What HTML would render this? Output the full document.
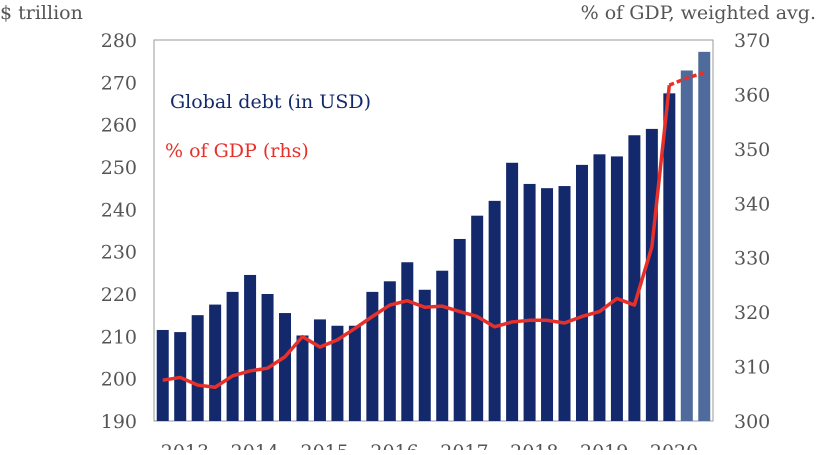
<!DOCTYPE html>
<html><head><meta charset="utf-8"><style>
body{margin:0;background:#fff;width:823px;height:450px;overflow:hidden}
text{font-family:"DejaVu Serif","Liberation Serif",serif}
</style></head><body>
<svg id="chart" width="823" height="450" xmlns="http://www.w3.org/2000/svg"></svg>
<script>
const yearLabels=["2013","2014","2015","2016","2017","2018","2019","2020"];
const debtValues=[211.5,211,215,217.5,220.5,224.5,220,215.5,210.2,214,212.5,212.5,220.5,223,227.5,221,225.5,233,238.5,242,251,246,245,245.5,250.5,253,252.5,257.5,259,267.4,272.8,277.2];
const gdpValues=[307.5,308,306.6,306.2,308.3,309.2,309.7,311.8,315.5,313.6,314.9,317,319.2,321.3,322.1,320.9,321.1,320.1,319.2,317.3,318.2,318.5,318.5,318,319.2,320.1,322.5,321.3,332,361.7,363,364];
const leftTicks=[190,200,210,220,230,240,250,260,270,280];
const rightTicks=[300,310,320,330,340,350,360,370];
const projectedFrom=30;
const NS="http://www.w3.org/2000/svg";
const svg=document.getElementById('chart');
const X0=154,X1=713,Y0=40,Y1=421;
const step=(X1-X0)/debtValues.length;
const xc=i=>X0+step*(i+0.5);
const yL=v=>Y1-(v-190)/(280-190)*(Y1-Y0);
const yR=v=>Y1-(v-300)/(370-300)*(Y1-Y0);
function mk(tag,attrs,txt){const e=document.createElementNS(NS,tag);for(const k in attrs)e.setAttribute(k,attrs[k]);if(txt!==undefined)e.textContent=txt;svg.appendChild(e);return e;}
let e;
e=mk('rect',{x:X0,y:Y0,width:X1-X0,height:Y1-Y0,fill:'none',stroke:'#999','stroke-width':1});


debtValues.forEach((v,i)=>{
  const b=mk('rect',{x:xc(i)-6,y:yL(v),width:12,height:Y1-yL(v),fill:i>=projectedFrom?'#4e6b9b':'#14296b'});
  
  
});
let d='';
gdpValues.forEach((v,i)=>{if(i<=projectedFrom-1)d+=(i?'L':'M')+xc(i)+','+yR(v);});
e=mk('path',{d:d,fill:'none',stroke:'#e8302a','stroke-width':3.5,'stroke-linejoin':'round'});


let d2='';
for(let i=projectedFrom-1;i<gdpValues.length;i++)d2+=(i>projectedFrom-1?'L':'M')+xc(i)+','+yR(gdpValues[i]);
e=mk('path',{d:d2,fill:'none',stroke:'#e8302a','stroke-width':3.5,'stroke-dasharray':'5,3'});


leftTicks.forEach(t=>{
  const l=mk('text',{x:137,y:yL(t)+7,'text-anchor':'end','font-size':19,fill:'#555'},t);
  
  
});
rightTicks.forEach(t=>{
  const l=mk('text',{x:734,y:yR(t)+7,'font-size':19,fill:'#555'},t);
  
  
});
yearLabels.forEach((t,i)=>{
  const l=mk('text',{x:xc(i*4+1.5)-4,y:458,'text-anchor':'middle','font-size':19,fill:'#555'},t);
  
  
});
e=mk('text',{x:0,y:19,'font-size':19,fill:'#555'},'$ trillion');


e=mk('text',{x:816,y:19,'text-anchor':'end','font-size':19,fill:'#555'},'% of GDP, weighted avg.');


e=mk('text',{x:170,y:108,'font-size':19,fill:'#14296b'},'Global debt (in USD)');


e=mk('text',{x:165,y:157,'font-size':19,fill:'#e8302a'},'% of GDP (rhs)');


</script>
</body></html>
